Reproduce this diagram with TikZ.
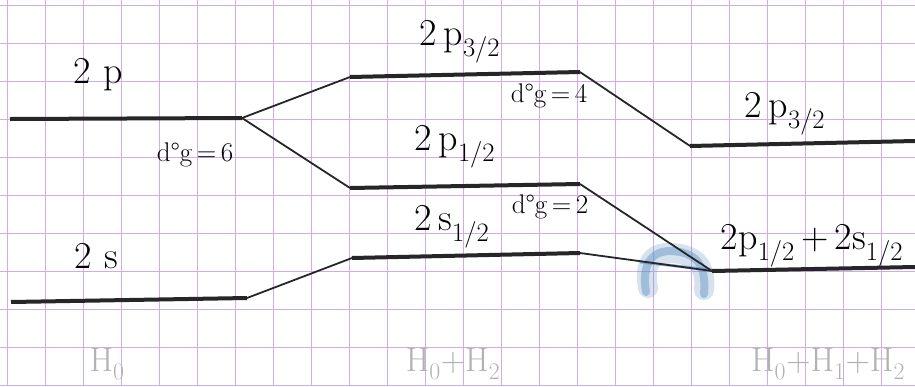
\documentclass[tikz,border=0pt]{standalone}
\usepackage{fontspec}
\usetikzlibrary{positioning}
\definecolor{gridlilac}{RGB}{206,172,236}
\definecolor{inkblue}{RGB}{95,145,195}
\tikzset{
  gridline/.style={draw=gridlilac, line width=1pt},
  levelline/.style={line width=4pt, draw=black!85},
  linkline/.style={line width=1.8pt, draw=black!85},
  statelabel/.style={font=\fontsize{38}{42}\selectfont, inner sep=0pt},
  deglabel/.style={font=\fontsize{27}{30}\selectfont, inner sep=0pt},
  hamlabel/.style={font=\fontsize{34}{38}\selectfont, text=black!30, inner sep=0pt},
}

\begin{document}
\begin{tikzpicture}[x=1pt, y=-1pt]
    \useasboundingbox (0,0) rectangle (915,386);
    \fill[white] (0,0) rectangle (915,386);
    % squared paper
    \foreach \gx in {7,45,...,915} \draw[gridline] (\gx,0) -- (\gx,386);
    \foreach \gy in {5,43,...,386} \draw[gridline] (0,\gy) -- (915,\gy);

    % level ends
    \coordinate (pzl) at (10,119);   \coordinate (pzr) at (242,118);
    \coordinate (szl) at (11,302);   \coordinate (szr) at (247,298);
    \coordinate (ptl) at (350,77);   \coordinate (ptr) at (580,72);
    \coordinate (pol) at (350,188);  \coordinate (por) at (580,184);
    \coordinate (sol) at (352,258);  \coordinate (sor) at (580,253);
    \coordinate (pRl) at (690,146);  \coordinate (pRr) at (915,141);
    \coordinate (mxl) at (712,271);  \coordinate (mxr) at (915,267);

    % ink smear
    \draw[inkblue, opacity=0.25, line width=20pt, line cap=round]
        (648,288) .. controls (642,255) and (660,250) .. (680,254)
        .. controls (700,258) and (706,270) .. (704,290);
    \draw[inkblue, opacity=0.45, line width=8pt, line cap=round]
        (646,292) .. controls (640,255) and (660,248) .. (680,252)
        .. controls (700,256) and (706,270) .. (704,294);
    \draw[inkblue, opacity=0.6, line width=3pt] (640,262) -- (712,270);

    % levels
    \draw[levelline] (pzl) -- (pzr);
    \draw[levelline] (szl) -- (szr);
    \draw[levelline] (ptl) -- (ptr);
    \draw[levelline] (pol) -- (por);
    \draw[levelline] (sol) -- (sor);
    \draw[levelline] (pRl) -- (pRr);
    \draw[levelline] (mxl) -- (mxr);

    % splittings
    \draw[linkline] (pzr) -- (ptl);
    \draw[linkline] (pzr) -- (pol);
    \draw[linkline] (szr) -- (sol);
    \draw[linkline] (ptr) -- (pRl);
    \draw[linkline] (por) -- (mxl);
    \draw[linkline] (sor) -- (mxl);

    % state labels
    \node[statelabel] (lbpz) at (98,75) {2\,\,p};
    \node[statelabel] (lbsz) at (96,256) {2\,\,s};
    \node[statelabel] (lbpt) at (460,42) {2\,p\textsubscript{3/2}};
    \node[statelabel] (lbpo) at (455,147) {2\,p\textsubscript{1/2}};
    \node[statelabel] (lbso) at (452,227) {2\,s\textsubscript{1/2}};
    \node[statelabel] (lbpR) at (785,114) {2\,p\textsubscript{3/2}};
    \node[statelabel] (lbmx) at (812,246) {2p\textsubscript{1/2}\,+\,2s\textsubscript{1/2}};

    % degeneracies
    \node[deglabel] (dgsix) at (195,155) {d\textdegree g\,=\,6};
    \node[deglabel] (dgfour) at (549,96) {d\textdegree g\,=\,4};
    \node[deglabel] (dgtwo) at (550,207) {d\textdegree g\,=\,2};

    % hamiltonians
    \node[hamlabel] (hzero) at (107,364) {H\textsubscript{0}};
    \node[hamlabel] (htwo) at (453,364) {H\textsubscript{0}+H\textsubscript{2}};
    \node[hamlabel] (hall) at (828,364) {H\textsubscript{0}+H\textsubscript{1}+H\textsubscript{2}};
\end{tikzpicture}
\end{document}
